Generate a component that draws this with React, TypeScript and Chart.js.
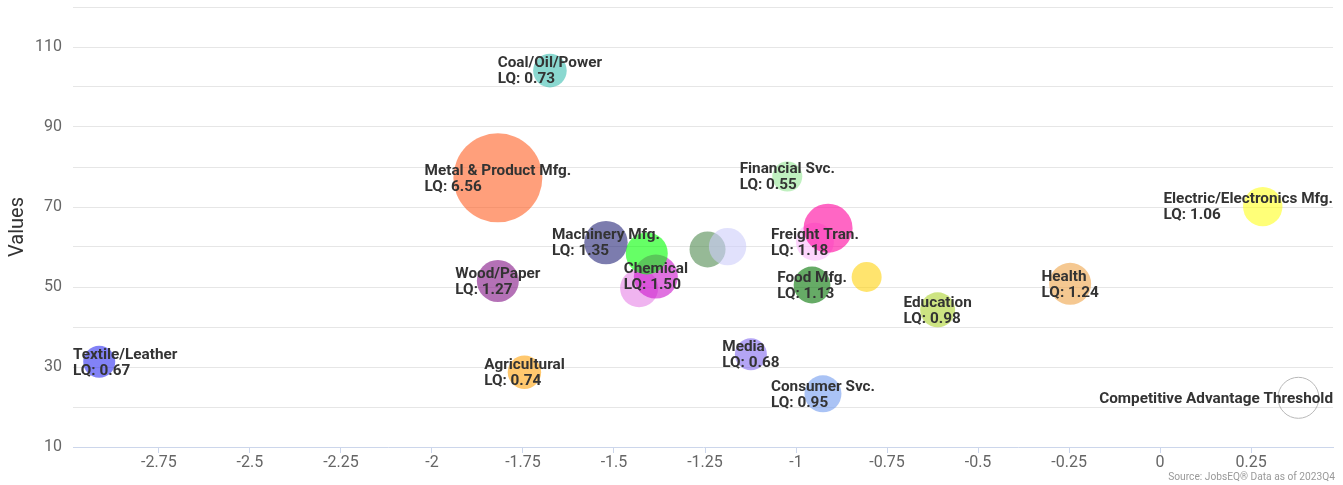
import React, { useEffect, useRef } from 'react';
import { Chart, registerables } from 'chart.js';

Chart.register(...registerables);

// ---- data ----
const industries: (string | null)[] = [
  'Textile/Leather',
  'Coal/Oil/Power',
  'Metal & Product Mfg.',
  'Financial Svc.',
  'Wood/Paper',
  'Machinery Mfg.',
  null,
  'Chemical',
  null,
  null,
  null,
  'Freight Tran.',
  null,
  'Food Mfg.',
  null,
  'Agricultural',
  'Media',
  'Consumer Svc.',
  'Education',
  'Health',
  'Electric/Electronics Mfg.',
  'Competitive Advantage Threshold',
];
const xValues = [
  -2.914, -1.676, -1.819, -1.024, -1.819, -1.522, -1.431, -1.385, -1.41, -1.243, -1.188,
  -0.948, -0.912, -0.956, -0.806, -1.746, -1.124, -0.926, -0.611, -0.247, 0.282, 0.38,
];
const yValues = [
  31.3, 104.1, 77.3, 77.6, 51.5, 61.1, 49.7, 52.6, 58.4, 59.4, 60.1,
  61.3, 64.7, 50.5, 52.5, 28.7, 33.2, 23.3, 44.3, 50.8, 70.1, 22.3,
];
const bubbleRadii = [
  16, 16.8, 44.5, 15, 21, 21.7, 19, 22, 21, 18, 18.7,
  19, 24.5, 18.4, 15, 16.7, 16, 18.5, 17.5, 21, 19.7, 20.5,
];
const lqValues: (number | null)[] = [
  0.67, 0.73, 6.56, 0.55, 1.27, 1.35, null, 1.5, null, null, null,
  1.18, null, 1.13, null, 0.74, 0.68, 0.95, 0.98, 1.24, 1.06, null,
];
const xTicks = [-2.75, -2.5, -2.25, -2, -1.75, -1.5, -1.25, -1, -0.75, -0.5, -0.25, 0, 0.25];
const yGridValues = [10, 20, 30, 40, 50, 60, 70, 80, 90, 100, 110, 120];
const yTickLabels = [10, 30, 50, 70, 90, 110];
const xRange = [-2.986, 0.475];
const yRange = [10, 120];
const axisTitle = 'Values';
const sourceNote = 'Source: JobsEQ® Data as of 2023Q4';

// ---- styles ----
const fillColors = [
  'rgba(40,40,240,0.58)',
  'rgba(60,190,177,0.6)',
  'rgba(255,95,35,0.6)',
  'rgba(150,230,150,0.6)',
  'rgba(125,10,130,0.58)',
  'rgba(30,30,115,0.58)',
  'rgba(230,130,230,0.6)',
  'rgba(203,20,203,0.6)',
  'rgba(0,255,0,0.6)',
  'rgba(80,138,80,0.6)',
  'rgba(205,205,250,0.6)',
  'rgba(252,185,252,0.6)',
  'rgba(255,0,157,0.6)',
  'rgba(0,115,0,0.6)',
  'rgba(255,210,13,0.6)',
  'rgba(255,163,13,0.6)',
  'rgba(130,105,238,0.6)',
  'rgba(113,155,238,0.6)',
  'rgba(172,210,47,0.6)',
  'rgba(238,163,72,0.6)',
  'rgba(255,255,30,0.6)',
  'rgba(255,255,255,0)',
];
const borderColors = fillColors.map((c, i) => (i === fillColors.length - 1 ? '#b8b8b8' : 'rgba(0,0,0,0)'));
const borderWidths = fillColors.map((c, i) => (i === fillColors.length - 1 ? 1 : 0));

const labelPlugin = {
  id: 'bubbleLabels',
  afterDatasetsDraw(chart: any) {
    const ctx = chart.ctx;
    const area = chart.chartArea;
    const meta = chart.getDatasetMeta(0);
    ctx.save();
    ctx.font = 'bold 15.3px Roboto';
    ctx.fillStyle = '#333333';
    ctx.textAlign = 'left';
    ctx.textBaseline = 'middle';
    meta.data.forEach((el: any, i: number) => {
      const name = industries[i];
      if (!name) return;
      const lq = lqValues[i];
      const lines = lq == null ? [name] : [name, 'LQ: ' + lq.toFixed(2)];
      const w = Math.max(...lines.map((l) => ctx.measureText(l).width));
      let left = el.x - w / 2;
      left = Math.max(area.left, Math.min(area.right - w, left));
      const lh = 16;
      const top = el.y + 1 - ((lines.length - 1) * lh) / 2;
      lines.forEach((l, k) => ctx.fillText(l, left, top + k * lh));
    });
    ctx.restore();
  },
};

const sourcePlugin = {
  id: 'sourceNote',
  afterDraw(chart: any) {
    const ctx = chart.ctx;
    ctx.save();
    ctx.font = '10.2px Roboto';
    ctx.fillStyle = '#999999';
    ctx.textAlign = 'right';
    ctx.textBaseline = 'alphabetic';
    ctx.fillText(sourceNote, 1335, 480);
    ctx.restore();
  },
};

export default function App() {
  const canvasRef = useRef<HTMLCanvasElement | null>(null);

  useEffect(() => {
    if (!canvasRef.current) return;
    const points = xValues.map((x, i) => ({ x, y: yValues[i], r: bubbleRadii[i] }));
    const chart = new Chart(canvasRef.current, {
      type: 'bubble',
      data: {
        datasets: [
          {
            data: points,
            backgroundColor: fillColors,
            borderColor: borderColors,
            borderWidth: borderWidths,
            hoverBorderWidth: borderWidths,
          } as any,
        ],
      },
      options: {
        responsive: false,
        animation: false,
        events: [],
        layout: { autoPadding: false, padding: { left: 0, right: 10, top: 7, bottom: 0 } },
        plugins: {
          legend: { display: false },
          tooltip: { enabled: false },
        },
        scales: {
          x: {
            type: 'linear',
            min: xRange[0],
            max: xRange[1],
            afterBuildTicks: (scale: any) => {
              scale.ticks = xTicks.map((v) => ({ value: v }));
            },
            afterFit: (scale: any) => {
              scale.height = 38;
              scale.paddingLeft = 0;
              scale.paddingRight = 0;
            },
            grid: {
              drawOnChartArea: false,
              drawTicks: true,
              tickLength: 6,
              color: '#ccd6eb',
            },
            border: { display: true, color: '#ccd6eb', width: 1 },
            ticks: {
              padding: 0,
              color: '#666666',
              font: { family: 'Roboto', size: 16 },
              maxRotation: 0,
              autoSkip: false,
              callback: (v: any) => String(v),
            },
          },
          y: {
            type: 'linear',
            min: yRange[0],
            max: yRange[1],
            afterBuildTicks: (scale: any) => {
              scale.ticks = yGridValues.map((v) => ({ value: v }));
            },
            afterFit: (scale: any) => {
              scale.width = 73;
              scale.paddingTop = 0;
              scale.paddingBottom = 0;
            },
            grid: {
              drawTicks: false,
              color: (c: any) => (c.tick && c.tick.value === yRange[0] ? 'rgba(0,0,0,0)' : '#e6e6e6'),
            },
            border: { display: false },
            ticks: {
              padding: 11,
              color: '#666666',
              font: { family: 'Roboto', size: 16 },
              autoSkip: false,
              callback: (v: any) => (yTickLabels.includes(Number(v)) ? String(v) : ''),
            },
            title: {
              display: true,
              text: axisTitle,
              color: '#333333',
              font: { family: 'Roboto', size: 20 },
              padding: { top: 6, bottom: 0 },
            },
          },
        },
      },
      plugins: [labelPlugin, sourcePlugin],
    });
    return () => chart.destroy();
  }, []);

  return (
    <div style={{ position: 'fixed', left: 0, top: 0, width: 1343, height: 485, background: '#ffffff' }}>
      <canvas ref={canvasRef} width={1343} height={485} style={{ width: 1343, height: 485, display: 'block' }} />
    </div>
  );
}
